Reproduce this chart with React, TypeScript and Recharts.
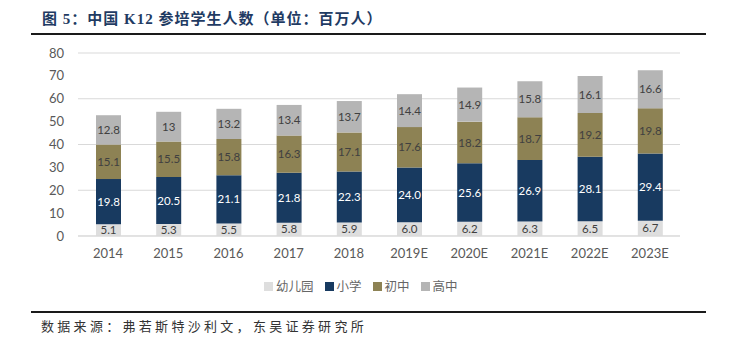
import React from 'react';
import { BarChart, Bar, XAxis, YAxis, CartesianGrid, LabelList } from 'recharts';

const years = ['2014', '2015', '2016', '2017', '2018', '2019E', '2020E', '2021E', '2022E', '2023E'];
const kindergarten = [5.1, 5.3, 5.5, 5.8, 5.9, 6.0, 6.2, 6.3, 6.5, 6.7];
const primary = [19.8, 20.5, 21.1, 21.8, 22.3, 24.0, 25.6, 26.9, 28.1, 29.4];
const middle = [15.1, 15.5, 15.8, 16.3, 17.1, 17.6, 18.2, 18.7, 19.2, 19.8];
const high = [12.8, 13, 13.2, 13.4, 13.7, 14.4, 14.9, 15.8, 16.1, 16.6];
const yTicks = [0, 10, 20, 30, 40, 50, 60, 70, 80];

const SERIES = [
  { key: 'kindergarten', name: '幼儿园', color: '#dedede', text: '#404040', fixed: true },
  { key: 'primary', name: '小学', color: '#183a60', text: '#ffffff', fixed: true },
  { key: 'middle', name: '初中', color: '#8d8254', text: '#404040', fixed: false },
  { key: 'high', name: '高中', color: '#b5b5b5', text: '#404040', fixed: false },
];

const data = years.map((year, i) => ({
  year,
  kindergarten: kindergarten[i],
  primary: primary[i],
  middle: middle[i],
  high: high[i],
}));

const FONT = 'Lato, "Noto Sans CJK SC", sans-serif';

const App: React.FC = () => {
  return (
    <div style={{ position: 'relative', width: 729, height: 344, margin: -8, background: '#fff', overflow: 'hidden' }}>
      <div
        style={{
          position: 'absolute',
          left: 42,
          top: 7,
          fontFamily: '"Liberation Serif", "Noto Sans CJK SC", serif',
          fontWeight: 700,
          fontSize: 15,
          letterSpacing: 1,
          color: '#1f3b63',
          whiteSpace: 'nowrap',
        }}
      >
        图 5：中国 K12 参培学生人数（单位：百万人）
      </div>
      <div style={{ position: 'absolute', left: 31, top: 33, width: 675, height: 2, background: '#1a1a1a' }} />

      <div style={{ position: 'absolute', left: 0, top: 0 }}>
        <BarChart
          width={729}
          height={300}
          data={data}
          margin={{ top: 53, right: 49, left: 38, bottom: 34 }}
          barSize={25}
        >
          <CartesianGrid vertical={false} stroke="#d9d9d9" />
          <XAxis
            dataKey="year"
            height={30}
            tickLine={false}
            axisLine={{ stroke: '#d9d9d9' }}
            tickMargin={7}
            tick={{ fill: '#595959', fontSize: 13, fontFamily: FONT }}
          />
          <YAxis
            width={40}
            domain={[0, 80]}
            ticks={yTicks}
            axisLine={false}
            tickLine={false}
            tickMargin={8}
            tick={{ fill: '#595959', fontSize: 13, fontFamily: FONT }}
          />
          {SERIES.map((s) => (
            <Bar key={s.key} dataKey={s.key} name={s.name} stackId="a" fill={s.color} isAnimationActive={false}>
              <LabelList
                dataKey={s.key}
                position="center"
                fill={s.text}
                fontSize={11.5}
                fontFamily={FONT}
                formatter={(v: any) => (s.fixed ? Number(v).toFixed(1) : String(v))}
              />
            </Bar>
          ))}
        </BarChart>
      </div>

      <div
        style={{
          position: 'absolute',
          left: 264,
          top: 279,
          display: 'flex',
          gap: 11,
          fontFamily: '"Noto Sans CJK SC", sans-serif',
          fontSize: 12.5,
          color: '#666',
          lineHeight: '14px',
        }}
      >
        {SERIES.map((s) => (
          <div key={s.key} style={{ display: 'flex', alignItems: 'center' }}>
            <span style={{ display: 'inline-block', width: 9, height: 9, background: s.color, marginRight: 3 }} />
            {s.name}
          </div>
        ))}
      </div>

      <div style={{ position: 'absolute', left: 31, top: 311, width: 675, height: 2, background: '#1a1a1a' }} />
      <div
        style={{
          position: 'absolute',
          left: 41,
          top: 318,
          fontFamily: '"Noto Sans CJK SC", sans-serif',
          fontSize: 13,
          letterSpacing: 3.3,
          color: '#333',
          whiteSpace: 'nowrap',
          lineHeight: '16px',
        }}
      >
        数据来源：弗若斯特沙利文，东吴证券研究所
      </div>
    </div>
  );
};

export default App;
